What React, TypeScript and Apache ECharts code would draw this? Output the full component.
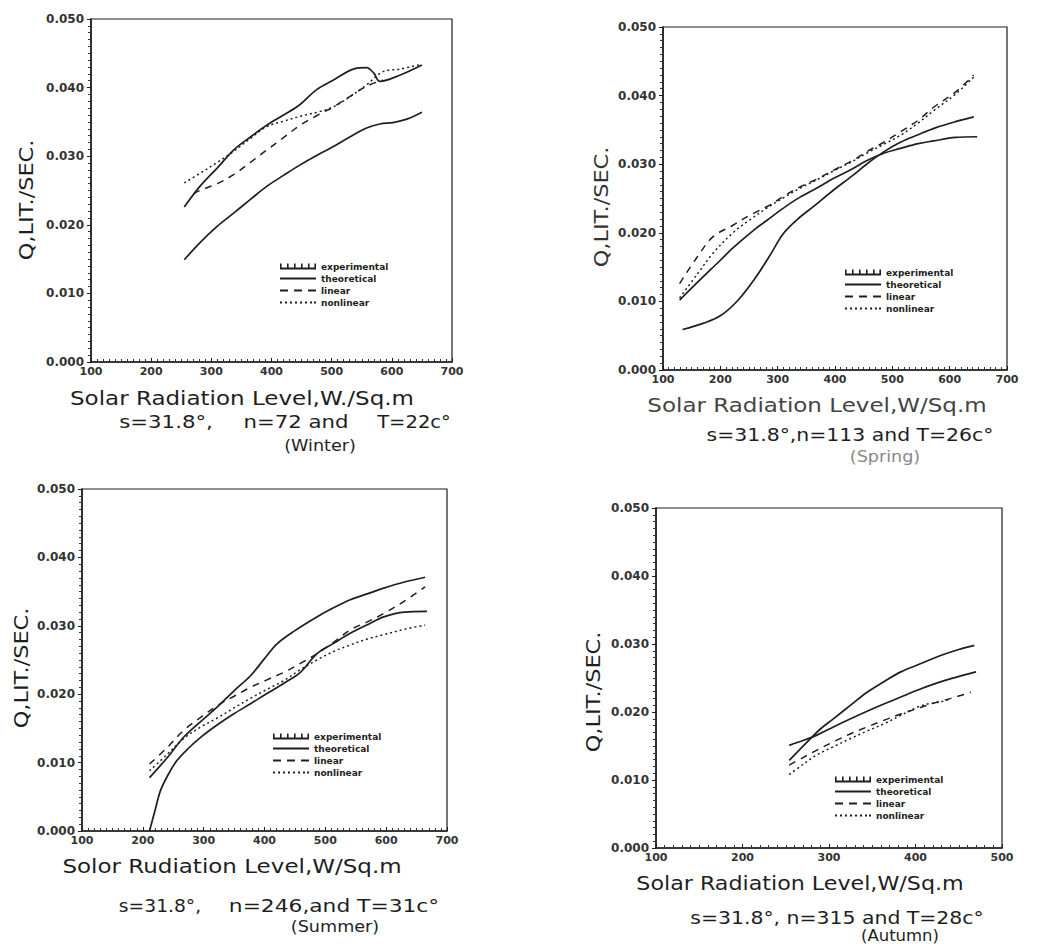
import React, { useEffect, useRef } from "react";
import * as echarts from "echarts";

// ---------- data (x = solar radiation W/m², y = Q lit/sec) ----------
const seriesNames = ["experimental", "theoretical", "linear", "nonlinear"];
const yTicks = [0, 0.01, 0.02, 0.03, 0.04, 0.05];

// Winter
const winterExperimental = [[255,0.0226],[281,0.0256],[310,0.0283],[337,0.0309],[365,0.0328],[392,0.0345],[420,0.0360],[447,0.0375],[475,0.0397],[503,0.0411],[536,0.0427],[558,0.0429],[570,0.0421],[580,0.0409],[613,0.0418],[650,0.0433]];
const winterTheoretical = [[255,0.0149],[280,0.0173],[310,0.0198],[337,0.0217],[365,0.0237],[392,0.0256],[420,0.0272],[447,0.0287],[475,0.0301],[503,0.0314],[530,0.0328],[558,0.0341],[580,0.0347],[602,0.0349],[625,0.0354],[650,0.0364]];
const winterLinear = [[270,0.0245],[281,0.0250],[310,0.0260],[337,0.0273],[365,0.0291],[392,0.0309],[420,0.0327],[447,0.0345],[475,0.0359],[503,0.0372],[530,0.0387],[558,0.0402],[585,0.0411]];
const winterNonlinear = [[255,0.0261],[281,0.0275],[310,0.0291],[337,0.0307],[365,0.0326],[392,0.0343],[420,0.0351],[447,0.0358],[480,0.0365],[503,0.0372],[531,0.0387],[558,0.0404],[585,0.0423],[613,0.0427],[650,0.0434]];

// Spring
const springExperimental = [[129,0.0102],[164,0.0131],[200,0.0160],[222,0.0178],[260,0.0205],[281,0.0218],[310,0.0236],[339,0.0252],[370,0.0266],[397,0.0279],[430,0.0293],[455,0.0305],[485,0.0316],[514,0.0323],[545,0.0330],[572,0.0334],[610,0.0339],[648,0.0340]];
const springTheoretical = [[134,0.0059],[170,0.0068],[200,0.0079],[230,0.0101],[260,0.0133],[285,0.0165],[310,0.0199],[335,0.0220],[365,0.0240],[397,0.0262],[430,0.0283],[455,0.0300],[485,0.0318],[514,0.0332],[545,0.0343],[575,0.0353],[610,0.0362],[642,0.0369]];
const springLinear = [[129,0.0126],[160,0.0165],[187,0.0194],[222,0.0211],[250,0.0225],[281,0.0238],[310,0.0253],[339,0.0267],[370,0.0279],[397,0.0291],[430,0.0305],[455,0.0318],[485,0.0332],[514,0.0347],[545,0.0364],[572,0.0383],[610,0.0405],[642,0.0430]];
const springNonlinear = [[129,0.0105],[160,0.0140],[187,0.0170],[222,0.0200],[250,0.0218],[281,0.0236],[310,0.0251],[339,0.0265],[370,0.0278],[397,0.0290],[430,0.0304],[455,0.0316],[485,0.0329],[514,0.0342],[545,0.0360],[572,0.0378],[610,0.0402],[642,0.0427]];

// Summer
const summerExperimental = [[211,0.0078],[240,0.0107],[267,0.0137],[295,0.0160],[322,0.0181],[350,0.0205],[377,0.0227],[400,0.0252],[421,0.0274],[450,0.0293],[486,0.0313],[515,0.0327],[541,0.0338],[570,0.0347],[596,0.0355],[630,0.0364],[664,0.0371]];
const summerTheoretical = [[211,0.0000],[220,0.0030],[229,0.0059],[242,0.0083],[256,0.0103],[275,0.0121],[295,0.0137],[322,0.0155],[349,0.0171],[377,0.0186],[404,0.0201],[432,0.0216],[459,0.0232],[486,0.0259],[515,0.0275],[541,0.0289],[570,0.0302],[596,0.0313],[630,0.0320],[667,0.0321]];
const summerLinear = [[211,0.0098],[240,0.0122],[267,0.0147],[295,0.0166],[322,0.0183],[350,0.0197],[377,0.0210],[404,0.0221],[432,0.0232],[459,0.0245],[486,0.0259],[515,0.0277],[541,0.0294],[570,0.0306],[596,0.0318],[630,0.0336],[664,0.0357]];
const summerNonlinear = [[211,0.0088],[240,0.0112],[267,0.0135],[295,0.0152],[322,0.0165],[350,0.0180],[377,0.0194],[404,0.0207],[432,0.0220],[459,0.0236],[486,0.0250],[515,0.0263],[541,0.0272],[570,0.0281],[596,0.0287],[630,0.0295],[664,0.0301]];

// Autumn
const autumnExperimental = [[254,0.0129],[278,0.0160],[290,0.0175],[305,0.0190],[325,0.0210],[344,0.0229],[364,0.0245],[383,0.0259],[402,0.0269],[429,0.0283],[450,0.0292],[468,0.0298]];
const autumnTheoretical = [[254,0.0151],[270,0.0158],[286,0.0166],[305,0.0178],[325,0.0190],[344,0.0201],[364,0.0212],[383,0.0222],[402,0.0232],[421,0.0241],[441,0.0249],[470,0.0259]];
const autumnLinear = [[254,0.0122],[270,0.0133],[286,0.0144],[305,0.0156],[325,0.0168],[344,0.0178],[364,0.0188],[383,0.0197],[402,0.0205],[421,0.0213],[441,0.0220],[464,0.0229]];
const autumnNonlinear = [[254,0.0108],[270,0.0123],[286,0.0137],[305,0.0149],[325,0.0161],[344,0.0172],[364,0.0183],[383,0.0195],[402,0.0207],[415,0.0212],[429,0.0215],[441,0.0219]];

const panelData = [
  [winterExperimental, winterTheoretical, winterLinear, winterNonlinear],
  [springExperimental, springTheoretical, springLinear, springNonlinear],
  [summerExperimental, summerTheoretical, summerLinear, summerNonlinear],
  [autumnExperimental, autumnTheoretical, autumnLinear, autumnNonlinear],
];
const xRanges = [[100, 700], [100, 700], [100, 700], [100, 500]];

// ---------- layout ----------
const FONT = '"DejaVu Sans", Verdana, sans-serif';
const INK = "#1e1e1e";
const grids = [
  { left: 91, top: 19, width: 361, height: 343 },
  { left: 663, top: 27, width: 344, height: 343 },
  { left: 82, top: 489, width: 365, height: 342 },
  { left: 656, top: 508, width: 346, height: 340 },
];
const legendPos = [
  { left: 280, top: 262 },
  { left: 845, top: 268 },
  { left: 273, top: 732 },
  { left: 835, top: 775 },
];

const ICONS: Record<string, string> = {
  experimental:
    "path://M0,6H36V8H0Z M0,2H1.6V6H0Z M7,2H8.6V6H7Z M14,2H15.6V6H14Z M21,2H22.6V6H21Z M28,2H29.6V6H28Z M34.4,2H36V6H34.4Z",
  theoretical: "path://M0,0H36V2H0Z",
  linear: "path://M0,0H8V2H0Z M14,0H22V2H14Z M28,0H36V2H28Z",
  nonlinear:
    "path://M0,0H2V2H0Z M5,0H7V2H5Z M10,0H12V2H10Z M15,0H17V2H15Z M20,0H22V2H20Z M25,0H27V2H25Z M30,0H32V2H30Z M34,0H36V2H34Z",
};

const lineStyles: any[] = [
  { type: "solid", width: 1.7 },
  { type: "solid", width: 1.7 },
  { type: [7, 6], width: 1.5 },
  { type: [2, 3], width: 1.5 },
];

function txt(x: number, y: number, text: string, size: number, color = INK, extra: any = {}) {
  return {
    type: "text",
    x,
    y,
    silent: true,
    ...extra,
    style: {
      text,
      fontSize: size,
      fontFamily: FONT,
      fill: color,
      textAlign: "center",
      textVerticalAlign: "middle",
    },
  };
}

export default function App() {
  const ref = useRef<HTMLDivElement>(null);
  useEffect(() => {
    if (!ref.current) return;
    const chart = echarts.init(ref.current, undefined, { renderer: "svg" });

    const xAxis = grids.map((_, i) => ({
      type: "value",
      gridIndex: i,
      min: xRanges[i][0],
      max: xRanges[i][1],
      interval: 100,
      axisLine: { show: true, onZero: false, lineStyle: { color: INK, width: 1.6 } },
      axisTick: { show: true, inside: true, length: 4, lineStyle: { color: INK } },
      minorTick: { show: true, splitNumber: 10, length: 3, lineStyle: { color: "#333" } },
      axisLabel: { fontSize: 11, fontWeight: "bold", fontFamily: FONT, color: "#333", margin: 4 },
      splitLine: { show: false },
    }));
    const yAxis = grids.map((_, i) => ({
      type: "value",
      gridIndex: i,
      min: yTicks[0],
      max: yTicks[yTicks.length - 1],
      interval: 0.01,
      axisLine: { show: true, onZero: false, lineStyle: { color: INK, width: 1.6 } },
      axisTick: { show: true, length: 4, lineStyle: { color: INK } },
      minorTick: { show: true, splitNumber: 10, length: 3, lineStyle: { color: "#333" } },
      axisLabel: {
        fontSize: 12,
        fontWeight: "bold",
        fontFamily: FONT,
        color: "#333",
        margin: 7,
        formatter: (v: number) => v.toFixed(3),
      },
      splitLine: { show: false },
    }));

    const series: any[] = [];
    panelData.forEach((sets, p) => {
      sets.forEach((data, s) => {
        series.push({
          type: "line",
          name: seriesNames[s],
          data,
          xAxisIndex: p,
          yAxisIndex: p,
          smooth: 0.35,
          symbol: "none",
          silent: true,
          color: INK,
          lineStyle: { color: INK, ...lineStyles[s] },
        });
      });
    });

    const legend = legendPos.map((pos) => ({
      ...pos,
      orient: "vertical",
      itemWidth: 36,
      itemHeight: 8,
      itemGap: 3,
      padding: 0,
      selectedMode: false,
      itemStyle: { color: INK },
      textStyle: { fontSize: 9, fontWeight: "bold", fontFamily: FONT, color: INK },
      data: seriesNames.map((n) => ({ name: n, icon: ICONS[n] })),
    }));

    const yName = "Q,LIT./SEC.";
    const rot = { rotation: Math.PI / 2, scaleX: 1.12 };
    const w = (s: number) => ({ scaleX: s });
    const graphic: any[] = [
      // y-axis names
      txt(26, 200, yName, 20, INK, rot),
      txt(601, 207, yName, 20, "#333", rot),
      txt(21, 668, yName, 20, INK, rot),
      txt(593, 692, yName, 20, INK, rot),
      // Winter
      txt(242, 398, "Solar Radiation Level,W./Sq.m", 20, INK, w(1.15)),
      txt(166, 422, "s=31.8°,", 17, INK, w(1.25)),
      txt(296, 422, "n=72 and", 17, INK, w(1.25)),
      txt(414, 422, "T=22c°", 17, INK, w(1.15)),
      txt(320, 445, "(Winter)", 16, INK, w(1.1)),
      // Spring
      txt(817, 405, "Solar Radiation Level,W/Sq.m", 20, "#444", w(1.15)),
      txt(850, 435, "s=31.8°,n=113 and T=26c°", 17, INK, w(1.2)),
      txt(885, 456, "(Spring)", 16, "#888", w(1.1)),
      // Summer
      txt(232, 866, "Solor Rudiation Level,W/Sq.m", 20, INK, w(1.15)),
      txt(160, 906, "s=31.8°,", 17, INK, w(1.1)),
      txt(334, 906, "n=246,and T=31c°", 17, INK, w(1.28)),
      txt(335, 926, "(Summer)", 16, INK, w(1.1)),
      // Autumn
      txt(800, 883, "Solar Radiation Level,W/Sq.m", 20, INK, w(1.11)),
      txt(837, 918, "s=31.8°, n=315 and T=28c°", 17, INK, w(1.2)),
      txt(900, 936, "(Autumn)", 15, INK, w(1.1)),
    ];

    chart.setOption({
      animation: false,
      backgroundColor: "#ffffff",
      grid: grids.map((g) => ({ ...g, show: true, borderColor: INK, borderWidth: 1.2, backgroundColor: "transparent" })),
      xAxis,
      yAxis,
      legend,
      series,
      graphic,
    });
    return () => chart.dispose();
  }, []);

  return (
    <div
      ref={ref}
      style={{ position: "absolute", left: 0, top: 0, width: 1043, height: 944, background: "#fff" }}
    />
  );
}
